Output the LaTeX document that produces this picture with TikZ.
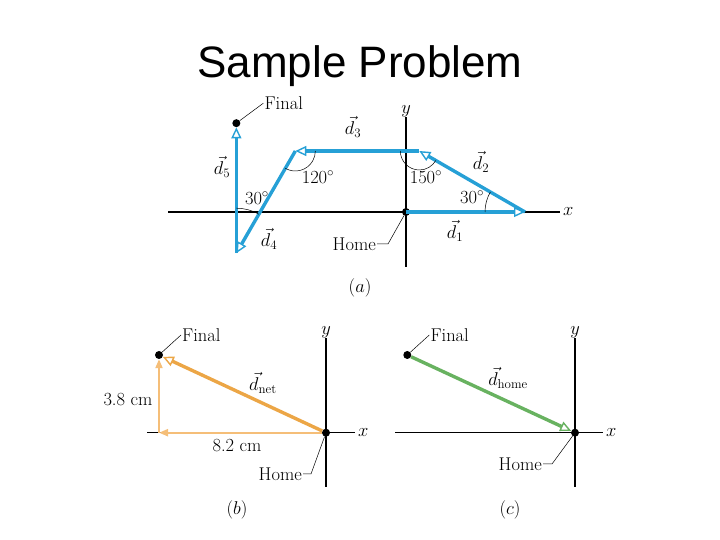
\RequirePackage{fix-cm}
\documentclass[tikz,border=0pt]{standalone}
\usepackage{amsmath}
\usepackage{fontspec}
\newfontfamily\titlefont{Liberation Sans}
\usepackage{tikz}
\usetikzlibrary{arrows.meta,positioning}
\definecolor{vecblue}{RGB}{38,160,214}
\definecolor{netorange}{RGB}{236,166,70}
\definecolor{comporange}{RGB}{245,190,120}
\definecolor{homegreen}{RGB}{104,178,96}
\tikzstyle{axis} = [black, line width=1.1pt]
\tikzstyle{vecline} = [line width=3.4pt, -{Triangle[length=11pt,width=10pt,fill=white,line width=1.4pt]}]
\tikzstyle{compline} = [comporange, line width=2pt, -{Triangle[length=9pt,width=7pt]}]
\tikzstyle{dot} = [circle, fill=black, inner sep=0pt, minimum size=8pt]
\tikzstyle{leader} = [black, line width=0.5pt]
\tikzstyle{lbl} = [font=\fontsize{18.5}{21}\selectfont, inner sep=1pt]

\begin{document}
\begin{tikzpicture}[x=1pt, y=1pt]
	\useasboundingbox (0,0) rectangle (720,540);
	\node (title) [anchor=base, font=\titlefont\fontsize{44}{50}\selectfont] at (360,462) {Sample Problem};

	% (a) five moves
	\coordinate (xstartA) at (168,328);
	\coordinate (xendA) at (560,328);
	\coordinate (ybotA) at (406,273);
	\coordinate (ytopA) at (406,423);
	\draw [axis] (xstartA) -- (xendA);
	\draw [axis] (ybotA) -- (ytopA);
	\node (xlblA) [lbl, right=2pt of xendA] {$x$};
	\node (ylblA) [lbl, above=-1pt of ytopA] {$y$};

	\node (homeA) [dot] at (406,328) {};
	\coordinate (p1) at (525,328);
	\coordinate (p2) at ([shift={(150:122)}]p1);
	\coordinate (p3) at ([xshift=-124]p2);
	\coordinate (p4) at ([shift={(240:118)}]p3);
	\node (finA) [dot] at ([yshift=130]p4) {};

	\draw [vecline, vecblue] (p1) -- (p2);
	\draw [vecline, vecblue] (homeA.center) -- (p1);
	\draw [vecline, vecblue] (p2) -- (p3);
	\draw [vecline, vecblue] (p4) -- (finA);
	\draw [vecline, vecblue] (p3) -- (p4);

	\draw [leader] ([shift={(150:40pt)}]p1) arc (150:180:40pt);
	\draw [leader] ([shift={(180:19pt)}]p2) arc (180:330:19pt);
	\draw [leader] ([shift={(240:20pt)}]p3) arc (240:360:20pt);
	\draw [leader] ([shift={(60:45pt)}]p4) arc (60:90:45pt);

	\node (d1lbl) [lbl] at (455,309) {$\vec{d}_1$};
	\node (d2lbl) [lbl] at (481,378) {$\vec{d}_2$};
	\node (d3lbl) [lbl] at (353,413) {$\vec{d}_3$};
	\node (d4lbl) [lbl] at (269,301) {$\vec{d}_4$};
	\node (d5lbl) [lbl] at (222,373) {$\vec{d}_5$};
	\node (ang1) [lbl] at (472,343) {$30^\circ$};
	\node (ang2) [lbl] at (426,363) {$150^\circ$};
	\node (ang3) [lbl] at (318,363) {$120^\circ$};
	\node (ang4) [lbl] at (257,342) {$30^\circ$};

	\node (finAlbl) [lbl, anchor=west] at ([shift={(27,20)}]finA) {Final};
	\draw [leader] (finA) -- ([shift={(16,20)}]finA) -- (finAlbl);
	\node (homeAlbl) [lbl, anchor=east] at (377,296) {Home};
	\draw [leader] (homeAlbl.east) -- ++(11,0) -- (homeA);
	\node (capA) [lbl] at (360,252) {$(a)$};

	% (b) net displacement
	\coordinate (xstartB) at (147,107.3);
	\coordinate (xendB) at (355,107.3);
	\coordinate (ybotB) at (326,53);
	\coordinate (ytopB) at (326,202);
	\draw [axis] (xstartB) -- (xendB);
	\draw [axis] (ybotB) -- (ytopB);
	\node (xlblB) [lbl, right=2pt of xendB] {$x$};
	\node (ylblB) [lbl, above=-1pt of ytopB] {$y$};

	\node (homeB) [dot] at (326,107.3) {};
	\node (finB) [dot] at (159,185) {};
	\coordinate (cornerB) at (159,107.3);
	\draw [compline] (homeB) -- (cornerB);
	\draw [compline] (cornerB) -- (finB);
	\draw [vecline, netorange] (homeB) -- (finB);

	\node (dnetlbl) [lbl] at (263,157) {$\vec{d}_{\mathrm{net}}$};
	\node (ylen) [lbl] at (128,140) {3.8 cm};
	\node (xlen) [lbl] at (237,94) {8.2 cm};
	\node (finBlbl) [lbl, anchor=west] at ([shift={(22,20)}]finB) {Final};
	\draw [leader] (finB) -- ([shift={(12,20)}]finB) -- (finBlbl);
	\node (homeBlbl) [lbl, anchor=east] at (303,66) {Home};
	\draw [leader] (homeBlbl.east) -- ++(8,0) -- (homeB);
	\node (capB) [lbl] at (237,30) {$(b)$};

	% (c) way back home
	\coordinate (xstartC) at (395,107.3);
	\coordinate (xendC) at (603,107.3);
	\coordinate (ybotC) at (575,53);
	\coordinate (ytopC) at (575,202);
	\draw [axis] (xstartC) -- (xendC);
	\draw [axis] (ybotC) -- (ytopC);
	\node (xlblC) [lbl, right=2pt of xendC] {$x$};
	\node (ylblC) [lbl, above=-1pt of ytopC] {$y$};

	\node (homeC) [dot] at (575,107.3) {};
	\node (finC) [dot] at (407.3,185) {};
	\draw [vecline, homegreen] (finC) -- (homeC);

	\node (dhomelbl) [lbl] at (508,162) {$\vec{d}_{\mathrm{home}}$};
	\node (finClbl) [lbl, anchor=west] at ([shift={(22,20)}]finC) {Final};
	\draw [leader] (finC) -- ([shift={(12,20)}]finC) -- (finClbl);
	\node (homeClbl) [lbl, anchor=east] at (543,76) {Home};
	\draw [leader] (homeClbl.east) -- ++(9,0) -- (homeC);
	\node (capC) [lbl] at (510,30) {$(c)$};
\end{tikzpicture}
\end{document}
